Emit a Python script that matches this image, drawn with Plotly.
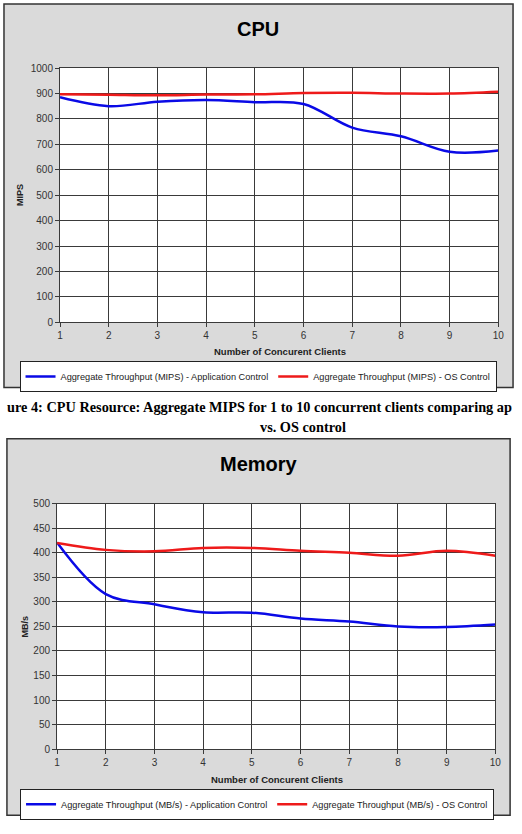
import plotly.graph_objects as go

clients = [1, 2, 3, 4, 5, 6, 7, 8, 9, 10]
cpu_app = [885, 850, 868, 875, 866, 859, 766, 732, 671, 676]
cpu_os = [897, 895, 893, 896, 897, 902, 903, 900, 900, 907]
mem_app = [421, 316, 295, 279, 278, 266, 260, 250, 249, 254]
mem_os = [420, 406, 403, 410, 410, 404, 400, 394, 404, 394]

cpu_ticks = list(range(0, 1001, 100))
mem_ticks = list(range(0, 501, 50))

W, H = 522, 834
def px(x): return x / W
def py(y): return 1 - y / H

FONT = "Liberation Sans, Arial, sans-serif"
SERIF = "Liberation Serif, Times New Roman, serif"
BLUE = "#0a0ae6"
RED = "#ee1a1a"
GRID = "#3a3a3a"
MARBLE = "#dadada"

fig = go.Figure()

fig.add_trace(go.Scatter(x=clients, y=cpu_app, mode="lines", line=dict(color=BLUE, width=2.5, shape="spline"),
                         name="Aggregate Throughput (MIPS) - Application Control", xaxis="x", yaxis="y", legend="legend"))
fig.add_trace(go.Scatter(x=clients, y=cpu_os, mode="lines", line=dict(color=RED, width=2.5, shape="spline"),
                         name="Aggregate Throughput (MIPS) - OS Control", xaxis="x", yaxis="y", legend="legend"))
fig.add_trace(go.Scatter(x=clients, y=mem_app, mode="lines", line=dict(color=BLUE, width=2.5, shape="spline"),
                         name="Aggregate Throughput (MB/s) - Application Control", xaxis="x2", yaxis="y2", legend="legend2"))
fig.add_trace(go.Scatter(x=clients, y=mem_os, mode="lines", line=dict(color=RED, width=2.5, shape="spline"),
                         name="Aggregate Throughput (MB/s) - OS Control", xaxis="x2", yaxis="y2", legend="legend2"))

axis_common = dict(showgrid=True, gridcolor=GRID, gridwidth=1, showline=True, linecolor=GRID, linewidth=1,
                   mirror=True, ticks="outside", ticklen=4, tickcolor=GRID, zeroline=False,
                   tickfont=dict(family=FONT, size=10, color="#333333"))

legend_common = dict(orientation="h", xanchor="center", yanchor="middle",
                     bgcolor="white", bordercolor="#222222", borderwidth=1,
                     font=dict(family=FONT, size=9.2, color="#222222"), itemwidth=30, tracegroupgap=0)

fig.update_layout(
    width=W, height=H, margin=dict(l=0, r=0, t=0, b=0),
    paper_bgcolor="white", plot_bgcolor="white", showlegend=True,
    xaxis=dict(domain=[px(58), px(504)], anchor="y", range=[1, 10], tickvals=clients, **axis_common),
    yaxis=dict(domain=[py(321), py(63)], anchor="x", range=[0, 1000], tickvals=cpu_ticks, **axis_common),
    xaxis2=dict(domain=[px(55), px(501)], anchor="y2", range=[1, 10], tickvals=clients, **axis_common),
    yaxis2=dict(domain=[py(754), py(505)], anchor="x2", range=[0, 500], tickvals=mem_ticks, **axis_common),
    legend=dict(x=px(259.5), y=py(376), **legend_common),
    legend2=dict(x=px(258.5), y=py(810), **legend_common),
)

shapes = [
    dict(type="rect", xref="paper", yref="paper", x0=px(1), x1=px(519), y0=py(387), y1=py(-2),
         fillcolor=MARBLE, line=dict(color="#333333", width=1.5), layer="below"),
    dict(type="rect", xref="paper", yref="paper", x0=px(4), x1=px(516), y0=py(821), y1=py(439),
         fillcolor=MARBLE, line=dict(color="#333333", width=1.5), layer="below"),
    dict(type="rect", xref="x domain", yref="y domain", x0=0, x1=1, y0=0, y1=1,
         fillcolor="white", line=dict(width=0), layer="below"),
    dict(type="rect", xref="x2 domain", yref="y2 domain", x0=0, x1=1, y0=0, y1=1,
         fillcolor="white", line=dict(width=0), layer="below"),
]
fig.update_layout(shapes=shapes)

ann = []
ann.append(dict(text="<b>CPU</b>", x=px(259), y=py(23), xref="paper", yref="paper", showarrow=False,
                font=dict(family=FONT, size=20, color="black"), xanchor="center", yanchor="middle"))
ann.append(dict(text="<b>Memory</b>", x=px(260), y=py(465), xref="paper", yref="paper", showarrow=False,
                font=dict(family=FONT, size=20, color="black"), xanchor="center", yanchor="middle"))
for (xx, yy) in [(282, 351), (279, 785)]:
    ann.append(dict(text="<b>Number of Concurent Clients</b>", x=px(xx), y=py(yy), xref="paper", yref="paper",
                    showarrow=False, font=dict(family=FONT, size=9.5, color="#222222"),
                    xanchor="center", yanchor="middle"))
ann.append(dict(text="<b>MIPS</b>", x=px(18), y=py(192), xref="paper", yref="paper", showarrow=False,
                textangle=-90, font=dict(family=FONT, size=9, color="#222222"), xanchor="center", yanchor="middle"))
ann.append(dict(text="<b>MB/s</b>", x=px(22), y=py(630), xref="paper", yref="paper", showarrow=False,
                textangle=-90, font=dict(family=FONT, size=9, color="#222222"), xanchor="center", yanchor="middle"))
ann.append(dict(text="<b>ure 4: CPU Resource: Aggregate MIPS for 1 to 10 concurrent clients comparing ap</b>",
                x=px(261), y=py(407), xref="paper", yref="paper", showarrow=False,
                font=dict(family=SERIF, size=14.3, color="black"), xanchor="center", yanchor="middle"))
ann.append(dict(text="<b>vs. OS control</b>", x=px(305), y=py(427), xref="paper", yref="paper", showarrow=False,
                font=dict(family=SERIF, size=14.3, color="black"), xanchor="center", yanchor="middle"))
fig.update_layout(annotations=ann)

fig.write_html("out.html")
